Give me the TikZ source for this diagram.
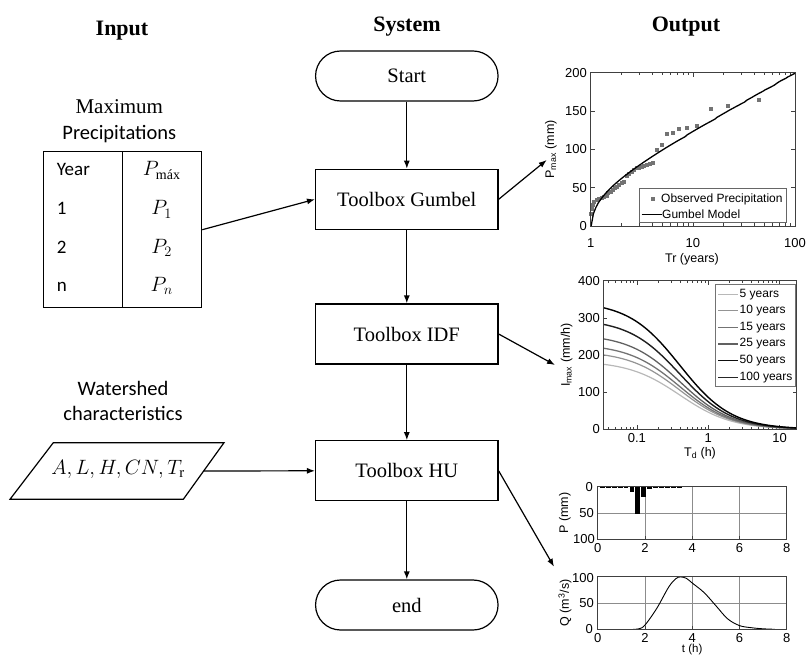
\documentclass[tikz,border=0pt]{standalone}
\usepackage{fontspec}
\setmainfont{Liberation Serif}
\newfontfamily\calfont{Carlito}
\newfontfamily\plotfont{Liberation Sans}
\usetikzlibrary{arrows.meta}
\begin{document}
\begin{tikzpicture}[x=1pt,y=-1pt,
  flowbox/.style={draw, line width=1.2pt, rectangle, minimum width=182.5pt, minimum height=60pt, inner sep=0pt, font=\fontsize{20.5}{24}\selectfont},
  termbox/.style={flowbox, minimum height=50pt, rounded corners=25pt},
  conn/.style={line width=1.2pt, -{Latex[length=8pt,width=6pt]}},
  head/.style={font=\fontsize{22}{26}\selectfont\bfseries, anchor=base},
  serlab/.style={font=\fontsize{21}{25}\selectfont, anchor=base},
  callab/.style={font=\calfont\fontsize{20.5}{25}\selectfont, anchor=base},
  celltxt/.style={font=\calfont\fontsize{19}{23}\selectfont, anchor=base west},
  mathtxt/.style={font=\fontsize{20}{24}\selectfont, anchor=base},
  axbox/.style={draw=black!75, line width=0.8pt},
  tk/.style={draw=black!75, line width=0.6pt},
  grd/.style={draw=black!45, line width=0.5pt},
  tl/.style={font=\plotfont\fontsize{13}{15}\selectfont, inner sep=1pt},
  al/.style={font=\plotfont\fontsize{12.5}{14}\selectfont},
  lg/.style={font=\plotfont\fontsize{12}{14}\selectfont, anchor=west, inner sep=0pt}
]
\useasboundingbox (0,0) rectangle (806,655);

% ---------------- headings
\node[head] (hin) at (122,36) {Input};
\node[head] (hsys) at (407,31.7) {System};
\node[head] (hout) at (686,32) {Output};

% ---------------- system column
\node[termbox] (start) at (406.8,76) {Start};
\node[flowbox] (gumbel) at (406.8,199.3) {Toolbox Gumbel};
\node[flowbox] (idf) at (406.8,334) {Toolbox IDF};
\node[flowbox] (hu) at (406.8,470.8) {Toolbox HU};
\node[termbox] (end) at (406.8,605) {end};

\draw[conn] (start) -- (gumbel);
\draw[conn] (gumbel) -- (idf);
\draw[conn] (idf) -- (hu);
\draw[conn] (hu) -- (end);

% ---------------- input: table
\node[serlab] (maxl) at (119.3,114) {Maximum};
\node[callab] (precl) at (119.3,139.3) {Precipitations};
\node[draw, line width=1.2pt, minimum width=158.4pt, minimum height=156pt, inner sep=0pt] (table) at (122.5,229.7) {};
\draw[line width=1.2pt] (table.north) -- (table.south);
\node[celltxt] (cy) at (53.3,176) {Year};
\node[celltxt] (c1) at (53.3,215) {1};
\node[celltxt] (c2) at (53.3,253.3) {2};
\node[celltxt] (cn) at (53.3,291.7) {n};
\node[mathtxt] (py) at (161.7,176) {$P_{\mbox{\fontsize{14}{16}\selectfont máx}}$};
\node[mathtxt] (p1) at (161.7,215) {$P_1$};
\node[mathtxt] (p2) at (161.7,253.3) {$P_2$};
\node[mathtxt] (pn) at (161.7,291.7) {$P_n$};
\draw[conn] (table.east) -- (gumbel.west);

% ---------------- input: watershed
\node[callab] (wl1) at (123,395) {Watershed};
\node[callab] (wl2) at (123,420.7) {characteristics};
\draw[line width=1.2pt] (53.3,442.7) -- (224,442.7) -- (183.3,499.3) -- (10,499.3) -- cycle;
\coordinate (parR) at (203.7,471);
\node[mathtxt, font=\fontsize{21}{25}\selectfont] (wtxt) at (118,474.3) {$A, L, H, CN, T_{\mathrm{r}}$};
\draw[conn] (parR) -- (hu.west);

% ---------------- output arrows
\coordinate (g1) at (546.7,160);
\coordinate (i1) at (555,365);
\coordinate (h1) at (554,566.7);
\draw[conn] (gumbel.east) -- (g1);
\draw[conn] (idf.east) -- (i1);
\draw[conn] (hu.east) -- (h1);

% ================= PLOT 1 : Gumbel
\fill[white] (590.7,72.7) rectangle (795,226);
\foreach \d in {0,1} {
  \foreach \k in {2,...,9} {
    \pgfmathsetmacro\xx{590.7+(\d+log10(\k))*102.15}
    \draw[tk] (\xx,226) -- ++(0,-2.5);
    \draw[tk] (\xx,72.7) -- ++(0,2.5);
  }
}
\foreach \xx/\lab in {590.7/1,692.85/10,795/100} {
  \draw[tk] (\xx,226) -- ++(0,-4);
  \draw[tk] (\xx,72.7) -- ++(0,4);
  \node[tl] at (\xx,242.7) {\lab};
}
\foreach \v in {0,50,100,150,200} {
  \pgfmathsetmacro\yy{226-\v*0.7665}
  \draw[tk] (590.7,\yy) -- ++(4,0);
  \draw[tk] (795,\yy) -- ++(-4,0);
  \node[tl, anchor=east] at (588,\yy) {\v};
}
\node[al] at (692,259.5) {Tr (years)};
\node[al, rotate=90] at (551,149.4) {P\textsubscript{max} (mm)};
\foreach \a/\b in {153/493,155/478,158/465,163/455,170/450,178/448,185/445,192/440,200/437,205/430,212/425,218/420,225/415,232/410,238/405,245/398,252/395,262/378,268/372,275/365,282/360,290/355,298/354,305/352,312/348,320/345,330/342,340/338,350/300,366/285,380/252,398/248,418/237,442/234,472/228,512/176,563/168,657/150} {
  \fill[black!55] ({540+\a/3-2},{50+\b/3-2}) rectangle ++(4,4);
}
\draw[line width=1.3pt, black] plot[domain=0.00432:2, samples=90, variable=\t]
  ({590.7+\t*102.15},{226-(50-32.6*ln(-ln(1-exp(-2.302585*\t))))*0.7665});
\draw[axbox] (590.7,72.7) rectangle (795,226);
\draw[fill=white, draw=black!60, line width=0.6pt] (639.3,188.3) rectangle (786.7,222.7);
\fill[black!55] (650.7,197.3) rectangle ++(4,4);
\node[lg] at (661,199.8) {Observed Precipitation};
\draw[line width=1.3pt] (641.7,214.3) -- (661.7,214.3);
\node[lg] at (662,214.3) {Gumbel Model};

% ================= PLOT 2 : IDF
\begin{scope}
\clip (603.3,280.7) rectangle (796.7,429.3);
\foreach \d in {-2,-1,0,1} {
  \foreach \k in {2,...,9} {
    \pgfmathsetmacro\xx{708.3+(\d+log10(\k))*71.3}
    \draw[tk] (\xx,429.3) -- ++(0,-2.5);
    \draw[tk] (\xx,280.7) -- ++(0,2.5);
  }
}
\end{scope}
\foreach \xx/\lab in {636.9/0.1,708.3/1,779.6/10} {
  \draw[tk] (\xx,429.3) -- ++(0,-4);
  \draw[tk] (\xx,280.7) -- ++(0,4);
  \node[tl] at (\xx,438.5) {\lab};
}
\foreach \v in {0,100,200,300,400} {
  \pgfmathsetmacro\yy{429.3-\v*0.3715}
  \draw[tk] (603.3,\yy) -- ++(4,0);
  \draw[tk] (796.7,\yy) -- ++(-4,0);
  \node[tl, anchor=east] at (601,\yy) {\v};
}
\node[al] at (700,453) {T\textsubscript{d} (h)};
\node[al, rotate=90] at (566.7,355) {I\textsubscript{max} (mm/h)};
\foreach \io/\col/\lw in {184/black!28/1.2, 210.5/black!42/1.2, 229.5/black!55/1.3, 256/black!62/1.3, 297/black!88/1.4, 344/black/1.4} {
  \draw[line width=\lw pt, \col] plot[domain=-1.468:1.244, samples=70, variable=\t]
    ({708.3+\t*71.3},{429.3-\io/(1+exp(1.2*(2.302585*\t+0.916291)))*0.3715});
}
\draw[axbox] (603.3,280.7) rectangle (796.7,429.3);
\draw[fill=white, draw=black!55, line width=0.6pt] (715,284) rectangle (795,386.7);
\foreach \yy/\col/\lab in {294.3/black!28/5 years, 310.7/black!42/10 years, 327.3/black!55/15 years, 344/black!62/25 years, 360.7/black!95/50 years, 377.7/black!85/100 years} {
  \draw[line width=1.4pt, \col] (718.3,\yy) -- (738.3,\yy);
  \node[lg] at (739.5,\yy) {\lab};
}

% ================= PLOT 3 : hyetograph
\foreach \xx in {644.95,692.2,739.45} {
  \draw[grd] (\xx,486.7) -- (\xx,539);
  \draw[grd] (\xx,576.7) -- (\xx,629.3);
}
\draw[grd] (597.7,513.3) -- (786.7,513.3);
\draw[grd] (597.7,603.3) -- (786.7,603.3);
\foreach \k/\dd in {0/1.2,1/1.2,2/1.5,3/2,4/3,5/10,6/52,7/20,8/5,9/3,10/2,11/1.5,12/1.2,13/1} {
  \pgfmathsetmacro\xa{597.7+(0.2+0.25*\k)*23.625-2.4}
  \pgfmathsetmacro\xb{597.7+(0.2+0.25*\k)*23.625+2.4}
  \pgfmathsetmacro\yb{486.7+\dd*0.523}
  \fill[black] (\xa,486.7) rectangle (\xb,\yb);
}
\draw[axbox] (597.7,486.7) rectangle (786.7,539);
\foreach \xx/\lab in {597.7/0,644.95/2,692.2/4,739.45/6,786.7/8} {
  \draw[tk] (\xx,539) -- ++(0,-3);
  \node[tl] at (\xx,548.3) {\lab};
  \draw[tk] (\xx,629.3) -- ++(0,-3);
  \node[tl] at (\xx,637.8) {\lab};
}
\node[tl, anchor=east] at (594,486.7) {0};
\node[tl, anchor=east] at (595,513.3) {50};
\node[tl, anchor=east] at (596,539.5) {100};
\node[al, rotate=90] at (565,513.3) {P (mm)};

% ================= PLOT 4 : hydrograph
\draw[line width=0.9pt] plot[smooth, tension=0.55] coordinates {
 (633.1,629.3) (639.0,628.8) (644.95,625.1) (656.8,608.3) (668.6,587.2) (675.7,578.8)
 (680.4,576.9) (686.3,578.3) (692.2,583.0) (704.0,592.5) (715.8,605.6) (727.6,618.8)
 (739.5,625.6) (751.3,627.7) (763.1,628.8) (774.9,629.3)};
\draw[axbox] (597.7,576.7) rectangle (786.7,629.3);
\node[tl, anchor=east] at (595,577.7) {100};
\node[tl, anchor=east] at (595,603.3) {50};
\node[tl, anchor=east] at (594,629.3) {0};
\node[al, rotate=90] at (565,603) {Q (m\textsuperscript{3}/s)};
\node[font=\plotfont\fontsize{11.5}{13}\selectfont, inner sep=0pt] (tlab) at (692.2,649.5) {t (h)};
\end{tikzpicture}
\end{document}
